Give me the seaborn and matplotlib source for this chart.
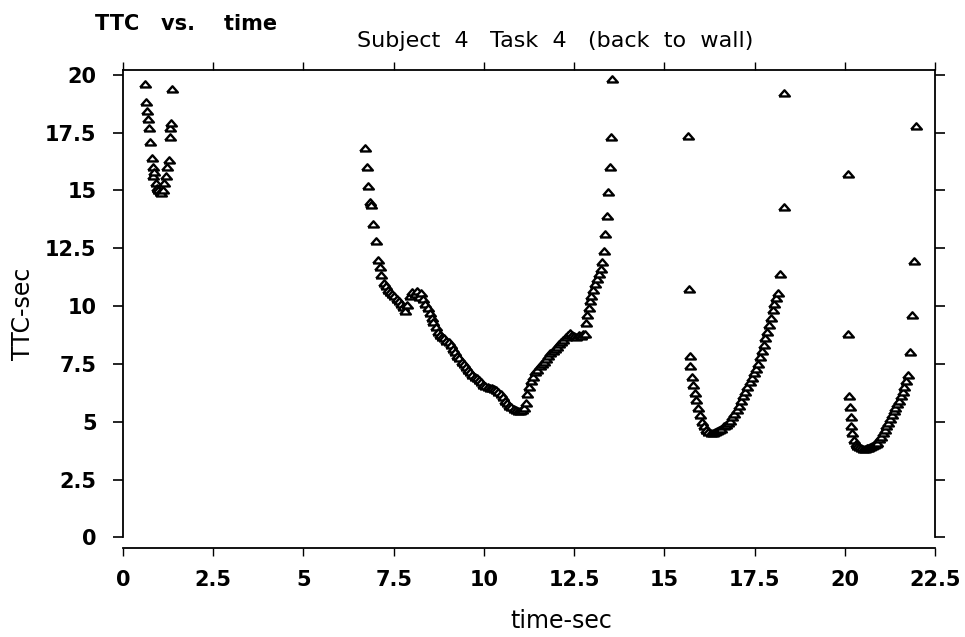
import numpy as np
import pandas as pd
import matplotlib
matplotlib.use("Agg")
import matplotlib.pyplot as plt
import seaborn as sns

# TTC readings per approach (time in sec, TTC in sec)
t_seg1 = [0.62, 0.64, 0.66, 0.69, 0.72, 0.75, 0.79, 0.82, 0.84, 0.86, 0.90, 0.94,
          0.98, 1.02, 1.06, 1.10, 1.14, 1.18, 1.22, 1.26, 1.29, 1.31, 1.34, 1.37]
ttc_seg1 = [19.6, 18.8, 18.45, 18.1, 17.7, 17.1, 16.4, 16.0, 15.6, 15.8, 15.3, 15.1,
            15.0, 14.95, 14.9, 15.0, 15.3, 15.6, 16.0, 16.3, 17.3, 17.7, 17.9, 19.4]

t_seg2 = [6.70, 6.75, 6.78, 6.84, 6.88, 6.93, 7.00, 7.06, 7.12, 7.16, 7.22, 7.28,
          7.34, 7.40, 7.46, 7.52, 7.58, 7.64, 7.70, 7.76, 7.82, 7.88, 7.95, 8.02,
          8.08, 8.14, 8.20, 8.26, 8.32, 8.38, 8.44, 8.50, 8.55, 8.60, 8.66, 8.72,
          8.78, 8.84, 8.90, 8.96, 9.02, 9.08, 9.14, 9.20, 9.26, 9.32, 9.38, 9.44,
          9.50, 9.56, 9.62, 9.68, 9.74, 9.80, 9.86, 9.92, 9.98, 10.04, 10.10, 10.16,
          10.22, 10.28, 10.34, 10.40, 10.46, 10.52, 10.58, 10.64, 10.70, 10.76, 10.82,
          10.88, 10.94, 11.00, 11.06, 11.12, 11.16, 11.20, 11.25, 11.30, 11.36, 11.42,
          11.48, 11.54, 11.60, 11.66, 11.72, 11.78, 11.84, 11.90, 11.96, 12.02, 12.08,
          12.14, 12.20, 12.26, 12.32, 12.38, 12.44, 12.50, 12.56, 12.62, 12.68, 12.74,
          12.79, 12.82, 12.86, 12.90, 12.94, 12.98, 13.03, 13.08, 13.14, 13.20, 13.25,
          13.28, 13.32, 13.35, 13.40, 13.44, 13.50, 13.52, 13.55]
ttc_seg2 = [16.85, 16.0, 15.2, 14.5, 14.35, 13.55, 12.8, 12.0, 11.7, 11.35, 11.0, 10.85,
            10.7, 10.6, 10.5, 10.45, 10.3, 10.2, 10.1, 9.95, 9.8, 10.05, 10.45, 10.6,
            10.5, 10.65, 10.4, 10.55, 10.3, 10.1, 9.9, 9.7, 9.5, 9.3, 9.1, 8.9,
            8.75, 8.65, 8.6, 8.5, 8.45, 8.3, 8.15, 8.0, 7.85, 7.75, 7.6, 7.5,
            7.35, 7.25, 7.15, 7.0, 6.95, 6.9, 6.8, 6.7, 6.6, 6.55, 6.5, 6.45,
            6.45, 6.4, 6.35, 6.3, 6.2, 6.05, 5.9, 5.8, 5.7, 5.65, 5.55,
            5.5, 5.45, 5.45, 5.5, 5.6, 5.8, 6.2, 6.5, 6.75, 6.95, 7.15,
            7.25, 7.4, 7.5, 7.6, 7.7, 7.85, 7.95, 8.05, 8.15, 8.25, 8.35,
            8.45, 8.55, 8.65, 8.75, 8.85, 8.75, 8.7, 8.65, 8.75, 8.7, 8.8,
            8.8, 9.25, 9.6, 9.9, 10.2, 10.45, 10.7, 10.95, 11.15, 11.4, 11.6,
            11.9, 12.4, 13.1, 13.9, 14.95, 16.0, 17.3, 19.8]

t_seg3 = [15.65, 15.68, 15.70, 15.72, 15.76, 15.80, 15.84, 15.88, 15.93, 15.98, 16.04,
          16.10, 16.16, 16.22, 16.28, 16.34, 16.40, 16.46, 16.52, 16.58, 16.64, 16.70,
          16.76, 16.82, 16.88, 16.94, 17.00, 17.06, 17.12, 17.18, 17.24, 17.30, 17.36,
          17.42, 17.48, 17.54, 17.60, 17.65, 17.70, 17.75, 17.80, 17.85, 17.90, 17.95,
          18.00, 18.05, 18.10, 18.15, 18.20, 18.30, 18.32]
ttc_seg3 = [17.35, 10.75, 7.85, 7.4, 6.95, 6.6, 6.25, 5.95, 5.6, 5.3, 5.0,
            4.8, 4.65, 4.55, 4.5, 4.5, 4.55, 4.6, 4.65, 4.7, 4.8, 4.85,
            4.95, 5.05, 5.2, 5.35, 5.5, 5.7, 5.9, 6.1, 6.3, 6.5, 6.7,
            6.9, 7.1, 7.3, 7.5, 7.8, 8.05, 8.3, 8.6, 8.9, 9.2, 9.5,
            9.85, 10.1, 10.35, 10.55, 11.4, 14.3, 19.2]

t_seg4 = [20.08, 20.10, 20.12, 20.14, 20.16, 20.18, 20.21, 20.25, 20.30, 20.35, 20.40,
          20.45, 20.50, 20.55, 20.60, 20.65, 20.70, 20.75, 20.80, 20.85, 20.90, 20.95,
          21.00, 21.05, 21.10, 21.15, 21.20, 21.25, 21.30, 21.35, 21.40, 21.45, 21.50,
          21.55, 21.60, 21.65, 21.70, 21.74, 21.80, 21.86, 21.92, 21.96]
ttc_seg4 = [8.8, 15.7, 6.1, 5.65, 5.2, 4.8, 4.5, 4.2, 4.05, 3.95, 3.9,
            3.85, 3.8, 3.8, 3.85, 3.85, 3.9, 3.95, 4.0, 4.05, 4.1, 4.25,
            4.35, 4.5, 4.65, 4.8, 4.95, 5.1, 5.3, 5.45, 5.6, 5.75, 5.9,
            6.1, 6.3, 6.5, 6.75, 7.0, 8.0, 9.6, 11.95, 17.8]

x_ticks = [0, 2.5, 5, 7.5, 10, 12.5, 15, 17.5, 20, 22.5]
x_labels = ["0", "2.5", "5", "7.5", "10", "12.5", "15", "17.5", "20", "22.5"]
y_ticks = [0, 2.5, 5, 7.5, 10, 12.5, 15, 17.5, 20]
y_labels = ["0", "2.5", "5", "7.5", "10", "12.5", "15", "17.5", "20"]

df = pd.DataFrame({
    "time": t_seg1 + t_seg2 + t_seg3 + t_seg4,
    "ttc": ttc_seg1 + ttc_seg2 + ttc_seg3 + ttc_seg4,
})

sns.set_style("ticks")
plt.rcParams["font.family"] = ["DejaVu Sans"]
plt.rcParams["text.color"] = "black"
plt.rcParams["axes.labelcolor"] = "black"
plt.rcParams["xtick.color"] = "black"
plt.rcParams["ytick.color"] = "black"

fig = plt.figure(figsize=(9.65, 6.37), dpi=100)
ax = fig.add_axes([0.1275, 0.14, 0.8415, 0.75])

# flattened open triangle, like the scanned markers (closed path)
tri = [(-1.0, -0.55), (1.0, -0.55), (0.0, 0.6), (-1.0, -0.55)]
sns.scatterplot(data=df, x="time", y="ttc", ax=ax, marker=tri, s=60,
                facecolor="white", edgecolor="black", linewidth=1.7, zorder=3)

ax.set_xlim(0, 22.5)
ax.set_ylim(-0.45, 20.2)
ax.set_xticks(x_ticks)
ax.set_xticklabels(x_labels, fontsize=15, fontweight="bold")
ax.set_yticks(y_ticks)
ax.set_yticklabels(y_labels, fontsize=15, fontweight="bold")

for side in ["left", "right", "top", "bottom"]:
    ax.spines[side].set_visible(True)
    ax.spines[side].set_color("black")
    ax.spines[side].set_linewidth(1.3)
ax.spines["left"].set_bounds(0, 20.2)
ax.spines["right"].set_bounds(0, 20.2)

ax.tick_params(axis="y", left=True, right=True, direction="out",
               length=7, width=1.2, pad=12, labelright=False)
ax.tick_params(axis="x", bottom=True, direction="out",
               length=6, width=1.0, pad=10)
ax.tick_params(axis="x", top=True, labeltop=False)

ax.set_xlabel("time-sec", fontsize=17)
ax.xaxis.set_label_coords(0.54, -0.128)
ax.set_ylabel("TTC-sec", fontsize=17)
ax.yaxis.set_label_coords(-0.108, 0.49)

fig.text(0.098, 1 - 30 / 637, "TTC   vs.    time", fontsize=15, fontweight="bold",
         va="baseline", ha="left")
fig.text(0.575, 1 - 47 / 637, "Subject  4   Task  4   (back  to  wall)", fontsize=16,
         va="baseline", ha="center")

fig.savefig("out.png", dpi=100)
